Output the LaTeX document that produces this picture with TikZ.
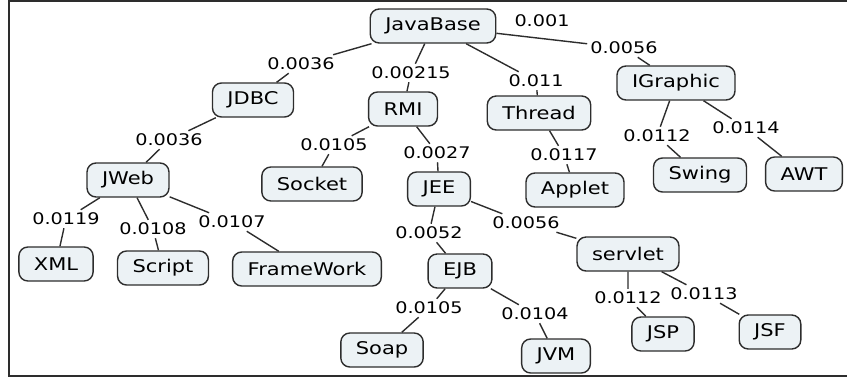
\documentclass[tikz,border=0pt]{standalone}
\usepackage{fontspec}
\setmainfont{DejaVu Sans}[FakeStretch=1.2]
\definecolor{boxfill}{RGB}{236,242,245}
\definecolor{boxline}{RGB}{45,45,45}

\begin{document}
\begin{tikzpicture}[x=1pt,y=-1pt,
    concept/.style={draw=boxline,line width=1.4pt,fill=boxfill,rounded corners=9pt,
        inner xsep=15pt,minimum height=34pt,font=\fontsize{17.5}{20}\selectfont},
    weight/.style={fill=white,inner sep=3pt,font=\fontsize{16}{18}\selectfont},
    link/.style={draw=boxline,line width=1.4pt}]
    \useasboundingbox (0,0) rectangle (847,378);
    \draw[line width=2pt,boxline] (847,1) -- (8.5,1) -- (8.5,376) -- (847,376);
    % concepts
    \node[concept](base) at (433,26) {JavaBase};
    \node[concept](jdbc) at (253,100) {JDBC};
    \node[concept](rmi) at (403,109) {RMI};
    \node[concept](thread) at (539,113) {Thread};
    \node[concept](igraphic) at (676,83) {IGraphic};
    \node[concept](jweb) at (128,180) {JWeb};
    \node[concept](socket) at (312,184) {Socket};
    \node[concept](jee) at (439,189) {JEE};
    \node[concept](applet) at (575,190) {Applet};
    \node[concept](swing) at (700,175) {Swing};
    \node[concept](awt) at (804,174) {AWT};
    \node[concept](xml) at (56,264) {XML};
    \node[concept](script) at (163,268) {Script};
    \node[concept](framework) at (307,269) {FrameWork};
    \node[concept](ejb) at (460,271) {EJB};
    \node[concept](servlet) at (628,254) {servlet};
    \node[concept](jsp) at (663,334) {JSP};
    \node[concept](jsf) at (770,332) {JSF};
    \node[concept](soap) at (382,350) {Soap};
    \node[concept](jvm) at (556,356) {JVM};
    % weights
    \node[weight](w0) at (542,21) {0.001};
    \node[weight](w1) at (301,64) {0.0036};
    \node[weight](w2) at (411,73) {0.00215};
    \node[weight](w3) at (536,81) {0.011};
    \node[weight](w4) at (624,48) {0.0056};
    \node[weight](w5) at (169,140) {0.0036};
    \node[weight](w6) at (334,145) {0.0105};
    \node[weight](w7) at (437,153) {0.0027};
    \node[weight](w8) at (564,155) {0.0117};
    \node[weight](w9) at (657,136) {0.0112};
    \node[weight](w10) at (746,128) {0.0114};
    \node[weight](w11) at (66,219) {0.0119};
    \node[weight](w12) at (153,229) {0.0108};
    \node[weight](w13) at (232,222) {0.0107};
    \node[weight](w14) at (429,233) {0.0052};
    \node[weight](w15) at (526,223) {0.0056};
    \node[weight](w16) at (429,308) {0.0105};
    \node[weight](w17) at (535,314) {0.0104};
    \node[weight](w18) at (628,298) {0.0112};
    \node[weight](w19) at (704,294) {0.0113};
    \path[link]
    (base) -- (w1) -- (jdbc)
    (base) -- (w2) -- (rmi)
    (base) -- (w3) -- (thread)
    (base) -- (w4) -- (igraphic)
    (jdbc) -- (w5) -- (jweb)
    (rmi) -- (w6) -- (socket)
    (rmi) -- (w7) -- (jee)
    (thread) -- (w8) -- (applet)
    (igraphic) -- (w9) -- (swing)
    (igraphic) -- (w10) -- (awt)
    (jweb) -- (w11) -- (xml)
    (jweb) -- (w12) -- (script)
    (jweb) -- (w13) -- (framework)
    (jee) -- (w14) -- (ejb)
    (jee) -- (w15) -- (servlet)
    (ejb) -- (w16) -- (soap)
    (ejb) -- (w17) -- (jvm)
    (servlet) -- (w18) -- (jsp)
    (servlet) -- (w19) -- (jsf);
\end{tikzpicture}
\end{document}
